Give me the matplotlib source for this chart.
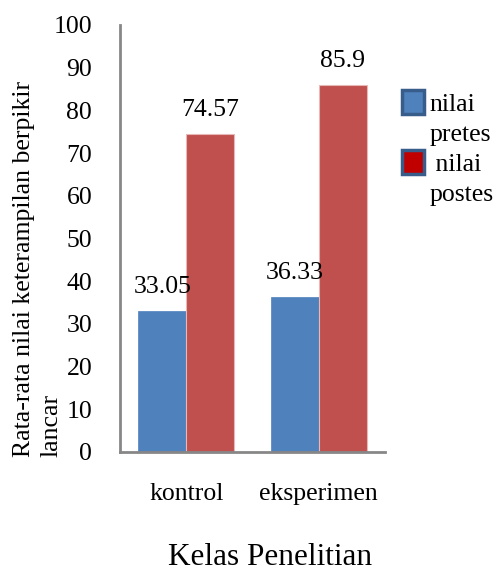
import numpy as np
import matplotlib.pyplot as plt
from matplotlib.patches import Patch

# Data
kelas = ['kontrol', 'eksperimen']
pretes = [33.05, 36.33]
postes = [74.57, 85.9]
label_pretes = 'nilai\npretes'
label_postes = 'nilai\npostes'

plt.rcParams['font.family'] = ['Liberation Serif', 'DejaVu Serif']
fs = 18.5

fig = plt.figure(figsize=(4.99, 5.72), dpi=100)
ax = fig.add_axes([0.2405, 0.2098, 0.531, 0.7465])

x = np.arange(len(kelas))
w = 0.362
b1 = ax.bar(x - w / 2, pretes, w, color='#4F81BD', edgecolor='#4F81BD', linewidth=0.5)
b2 = ax.bar(x + w / 2, postes, w, color='#C0504D', edgecolor='#E6B9B8', linewidth=0.8)

for bars, vals in ((b1, pretes), (b2, postes)):
    for r, v in zip(bars, vals):
        ax.text(r.get_x() + r.get_width() / 2, v + 3.0, f'{v:g}',
                ha='center', va='bottom', fontsize=fs)

ax.set_xlim(-0.5, 1.5)
ax.set_ylim(0, 100)
ax.set_yticks(np.arange(0, 101, 10))
ax.set_xticks(x)
ax.set_xticklabels(kelas)
ax.tick_params(axis='both', length=0, labelsize=fs)
ax.tick_params(axis='x', pad=22)
ax.tick_params(axis='y', pad=20)

for s in ('top', 'right'):
    ax.spines[s].set_visible(False)
for s in ('left', 'bottom'):
    ax.spines[s].set_color('#878787')
    ax.spines[s].set_linewidth(2)

ax.set_xlabel('Kelas Penelitian', fontsize=22.5)
ax.xaxis.set_label_coords(0.568, -0.213)
fig.text(0.076, 0.53, 'Rata-rata nilai keterampilan berpikir\nlancar', rotation=90,
         ha='center', va='center', fontsize=fs, multialignment='left',
         linespacing=1.3)

# legend: marker next to the first line of each two-line label
handles = [Patch(facecolor='#4F81BD', edgecolor='#385D8A', linewidth=2.5),
           Patch(facecolor='none', edgecolor='none'),
           Patch(facecolor='#C00000', edgecolor='#385D8A', linewidth=2.5),
           Patch(facecolor='none', edgecolor='none')]
p1, p2 = label_pretes.split('\n')
q1, q2 = label_postes.split('\n')
labels = [p1, p2, ' ' + q1, q2]
fig.legend(handles, labels, loc='upper left',
           bbox_to_anchor=(0.806, 0.843), frameon=False, fontsize=fs,
           handlelength=0.85, handleheight=1.1, handletextpad=0.2,
           labelspacing=0.15, borderpad=0, borderaxespad=0)

fig.savefig('out.png', dpi=100)
